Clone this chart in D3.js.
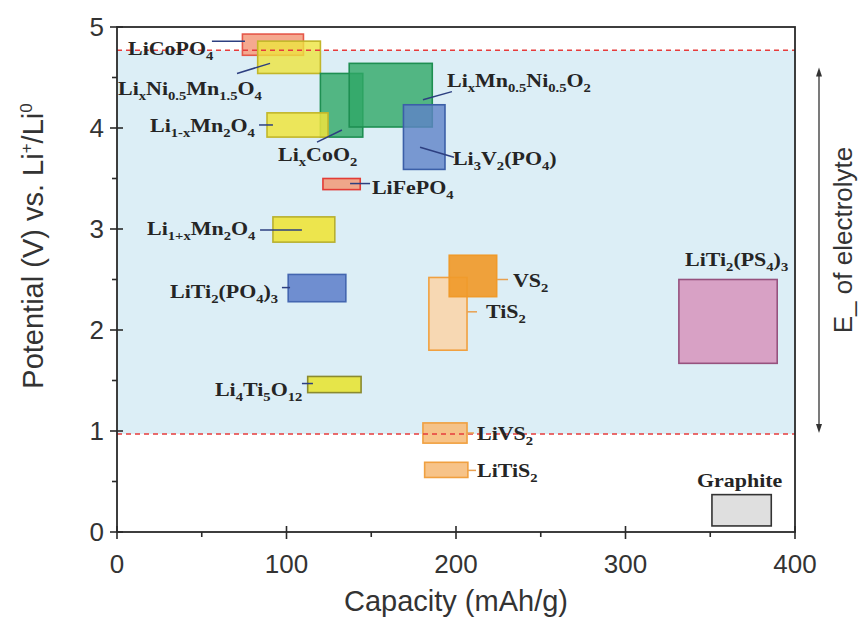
<!DOCTYPE html>
<html>
<head>
<meta charset="utf-8">
<script src="https://cdn.jsdelivr.net/npm/d3@7"></script>
<style>
  body { margin: 0; background: #fff; }
</style>
</head>
<body>
<div id="app"></div>
<script>
/* global d3 */

// Data: electrode materials, capacity (mAh/g) and potential (V) windows
const materials = ['LiCoPO4', 'LiNi0.5Mn1.5O4', 'LixCoO2', 'Li1-xMn2O4', 'LixMn0.5Ni0.5O2',
  'Li3V2(PO4)', 'LiFePO4', 'Li1+xMn2O4', 'LiTi2(PO4)3', 'TiS2', 'VS2', 'LiTi2(PS4)3',
  'Li4Ti5O12', 'LiVS2', 'LiTiS2', 'Graphite'];
const capLo = [74, 83, 120, 88.5, 137, 169, 121.5, 92, 101, 184, 196, 331.5, 112.5, 180.5, 181.5, 351];
const capHi = [110, 120, 145, 124.5, 186, 193.5, 143.5, 128.5, 135, 206.5, 224, 389.5, 144, 206.5, 207, 386];
const vLo = [4.72, 4.54, 3.91, 3.91, 4.01, 3.59, 3.39, 2.87, 2.28, 1.80, 2.33, 1.67, 1.38, 0.88, 0.54, 0.06];
const vHi = [4.93, 4.86, 4.54, 4.15, 4.64, 4.23, 3.50, 3.12, 2.55, 2.52, 2.74, 2.50, 1.54, 1.08, 0.69, 0.37];

// Label text ({} = subscript, ^{} = superscript) and anchor in data units
const labelText = ['LiCoPO{4}', 'Li{x}Ni{0.5}Mn{1.5}O{4}', 'Li{x}CoO{2}', 'Li{1-x}Mn{2}O{4}',
  'Li{x}Mn{0.5}Ni{0.5}O{2}', 'Li{3}V{2}(PO{4})', 'LiFePO{4}', 'Li{1+x}Mn{2}O{4}',
  'LiTi{2}(PO{4}){3}', 'TiS{2}', 'VS{2}', 'LiTi{2}(PS{4}){3}', 'Li{4}Ti{5}O{12}',
  'LiVS{2}', 'LiTiS{2}', 'Graphite'];
const labelCap = [6.5, 0.6, 95, 19.5, 194.7, 198.2, 150.4, 17.7, 31.3, 217.7, 233.6, 335.1, 57.8, 212.4, 212.4, 342.2];
const labelV = [4.72, 4.33, 3.67, 3.96, 4.41, 3.63, 3.35, 2.94, 2.32, 2.12, 2.43, 2.63, 1.35, 0.91, 0.54, 0.45];

// Leader lines [cap1, v1, cap2, v2]
const leaders = [
  [56, 4.86, 75.5, 4.86],
  [70.8, 4.54, 90.3, 4.64],
  [118, 3.86, 132.7, 3.98],
  [83.8, 4.03, 92, 4.03],
  [180.5, 4.28, 197.6, 4.36],
  [178.8, 3.81, 198.8, 3.71],
  [137.5, 3.45, 149.3, 3.45],
  [84.4, 2.99, 109.1, 2.99],
  [97.3, 2.42, 102.1, 2.42],
  [206.5, 2.18, 212.4, 2.18],
  [224.2, 2.50, 230.7, 2.50],
  null,
  [109.1, 1.47, 115.6, 1.47],
  [206.5, 0.98, 210.6, 0.98],
  [207.1, 0.61, 211.8, 0.61],
  null,
];

// Electrolyte stability window (V)
const windowLo = 0.97;
const windowHi = 4.77;

const xTicks = [0, 100, 200, 300, 400];
const xMinor = [50, 150, 250, 350];
const yTicks = [0, 1, 2, 3, 4, 5];
const yMinor = [0.5, 1.5, 2.5, 3.5, 4.5];

// Constants
const width = 859;
const height = 618;
const margin = ({
  top: 27, right: 64, bottom: 86, left: 117,
});
const plotWidth = width - margin.left - margin.right;
const plotHeight = height - margin.top - margin.bottom;

const fillColor = d3.scaleOrdinal()
  .domain(materials)
  .range(['#f4a48a', '#eee43e', '#2fa866', '#eee43e', '#2fa866', '#5f82c8', '#f0a080', '#eee43e',
    '#6586cc', '#f8d6ac', '#f09a2a', '#d79ac0', '#e6e43a', '#f6be7e', '#f6be7e', '#dcdcdc']);
const strokeColor = d3.scaleOrdinal()
  .domain(materials)
  .range(['#e5584a', '#c2b62a', '#1e8f52', '#c2b62a', '#1e8f52', '#3b5fa8', '#e23c36', '#b8b030',
    '#4466b0', '#f0a040', '#f09a2a', '#96527e', '#8a8a30', '#f0a040', '#f0a040', '#333']);
const fillOpacity = {
  LiCoPO4: 0.95, 'LiNi0.5Mn1.5O4': 0.8, LixCoO2: 0.8, 'Li1-xMn2O4': 0.85, 'LixMn0.5Ni0.5O2': 0.8, 'Li3V2(PO4)': 0.8,
};

const x = d3.scaleLinear().domain([0, 400]).range([0, plotWidth]);
const y = d3.scaleLinear().domain([0, 5]).range([plotHeight, 0]);

const svg = d3.select('#app')
  .append('svg')
  .attr('width', width)
  .attr('height', height)
  .style('font-family', 'Arial, "Liberation Sans", sans-serif');

const plot = svg.append('g')
  .attr('transform', `translate(${margin.left}, ${margin.top})`);

// Electrolyte window background
plot.append('rect')
  .attr('x', 0)
  .attr('y', y(windowHi))
  .attr('width', plotWidth)
  .attr('height', y(windowLo) - y(windowHi))
  .attr('fill', '#dceef6');

// Boxes
plot.append('g')
  .selectAll('rect')
  .data(materials)
  .join('rect')
  .attr('x', (d, i) => x(capLo[i]))
  .attr('y', (d, i) => y(vHi[i]))
  .attr('width', (d, i) => x(capHi[i]) - x(capLo[i]))
  .attr('height', (d, i) => y(vLo[i]) - y(vHi[i]))
  .attr('fill', (d) => fillColor(d))
  .attr('fill-opacity', (d) => fillOpacity[d] || 0.92)
  .attr('stroke', (d) => strokeColor(d))
  .attr('stroke-width', 1.6);

// Dashed window limits
plot.append('g')
  .selectAll('line')
  .data([windowLo, windowHi])
  .join('line')
  .attr('x1', 0)
  .attr('x2', plotWidth)
  .attr('y1', (d) => y(d))
  .attr('y2', (d) => y(d))
  .attr('stroke', '#e63c3c')
  .attr('stroke-width', 1.5)
  .attr('stroke-dasharray', '5,4');

// Leader lines
const sulfides = ['TiS2', 'VS2', 'LiVS2', 'LiTiS2'];
plot.append('g')
  .selectAll('line')
  .data(materials.map((m, i) => ({ m, l: leaders[i] })).filter((d) => d.l))
  .join('line')
  .attr('x1', (d) => x(d.l[0]))
  .attr('y1', (d) => y(d.l[1]))
  .attr('x2', (d) => x(d.l[2]))
  .attr('y2', (d) => y(d.l[3]))
  .attr('stroke', (d) => (sulfides.includes(d.m) ? '#e8a050' : '#2d3f80'))
  .attr('stroke-width', 1.5);

// Labels with sub/superscripts, bold serif stretched horizontally
function addFormula(parent, px, py, markup) {
  const g = parent.append('g')
    .attr('transform', `translate(${px}, ${py}) scale(1.22, 1)`);
  const t = g.append('text')
    .attr('font-family', '"Liberation Serif", "Times New Roman", serif')
    .attr('font-weight', 'bold')
    .attr('font-size', 18)
    .attr('fill', '#252525');
  const re = /(\^?)\{([^}]*)\}|([^{^]+)/g;
  let m;
  let shift = 0;
  while ((m = re.exec(markup)) !== null) {
    if (m[3]) {
      t.append('tspan').attr('dy', -shift).attr('font-size', 18).text(m[3]);
      shift = 0;
    } else {
      const s = m[1] ? -7 : 5;
      t.append('tspan').attr('dy', s - shift).attr('font-size', 12).text(m[2]);
      shift = s;
    }
  }
}

const labelLayer = plot.append('g');
materials.forEach((mat, i) => {
  addFormula(labelLayer, x(labelCap[i]), y(labelV[i]), labelText[i]);
});

// Frame
plot.append('rect')
  .attr('width', plotWidth)
  .attr('height', plotHeight)
  .attr('fill', 'none')
  .attr('stroke', '#2a2a2a')
  .attr('stroke-width', 1.8);

// Axes ticks
const axisColor = '#2a2a2a';
plot.append('g')
  .selectAll('line')
  .data(xTicks)
  .join('line')
  .attr('x1', (d) => x(d))
  .attr('x2', (d) => x(d))
  .attr('y1', plotHeight - 6)
  .attr('y2', plotHeight + 7)
  .attr('stroke', axisColor)
  .attr('stroke-width', 1.6);
plot.append('g')
  .selectAll('line')
  .data(xMinor)
  .join('line')
  .attr('x1', (d) => x(d))
  .attr('x2', (d) => x(d))
  .attr('y1', plotHeight)
  .attr('y2', plotHeight + 5)
  .attr('stroke', axisColor)
  .attr('stroke-width', 1.6);
plot.append('g')
  .selectAll('line')
  .data(yTicks)
  .join('line')
  .attr('x1', -7)
  .attr('x2', 6)
  .attr('y1', (d) => y(d))
  .attr('y2', (d) => y(d))
  .attr('stroke', axisColor)
  .attr('stroke-width', 1.6);
plot.append('g')
  .selectAll('line')
  .data(yMinor)
  .join('line')
  .attr('x1', -5)
  .attr('x2', 0)
  .attr('y1', (d) => y(d))
  .attr('y2', (d) => y(d))
  .attr('stroke', axisColor)
  .attr('stroke-width', 1.6);

// Tick labels
plot.append('g')
  .selectAll('text')
  .data(xTicks)
  .join('text')
  .attr('x', (d) => x(d))
  .attr('y', plotHeight + 41)
  .attr('text-anchor', 'middle')
  .attr('font-size', 26)
  .attr('fill', '#333')
  .text((d) => d);
plot.append('g')
  .selectAll('text')
  .data(yTicks)
  .join('text')
  .attr('x', -13)
  .attr('y', (d) => y(d) + 9)
  .attr('text-anchor', 'end')
  .attr('font-size', 26)
  .attr('fill', '#333')
  .text((d) => d);

// Axis titles
svg.append('text')
  .attr('x', margin.left + plotWidth / 2)
  .attr('y', 611)
  .attr('text-anchor', 'middle')
  .attr('font-size', 29)
  .attr('fill', '#333')
  .text('Capacity (mAh/g)');

const yTitle = svg.append('text')
  .attr('transform', 'translate(43, 246) rotate(-90)')
  .attr('text-anchor', 'middle')
  .attr('font-size', 29)
  .attr('fill', '#333');
yTitle.append('tspan').text('Potential (V) vs. Li');
yTitle.append('tspan').attr('dy', -11).attr('font-size', 17).text('+');
yTitle.append('tspan').attr('dy', 11).text('/Li');
yTitle.append('tspan').attr('dy', -11).attr('font-size', 17).text('0');

// Electrolyte window arrow
const arrowX = plotWidth + 24;
const arrow = plot.append('g').attr('stroke', '#333').attr('fill', '#333');
arrow.append('line')
  .attr('x1', arrowX)
  .attr('x2', arrowX)
  .attr('y1', y(4.6) + 4)
  .attr('y2', y(0.98) - 4)
  .attr('stroke-width', 1.3);
arrow.append('path')
  .attr('d', `M${arrowX},${y(4.6)} l-3,9 l6,0 z`)
  .attr('stroke', 'none');
arrow.append('path')
  .attr('d', `M${arrowX},${y(0.98)} l-3,-9 l6,0 z`)
  .attr('stroke', 'none');

svg.append('text')
  .attr('transform', 'translate(852, 240) rotate(-90)')
  .attr('text-anchor', 'middle')
  .attr('font-size', 26)
  .attr('fill', '#333')
  .text('E_ of electrolyte');
</script>
</body>
</html>
